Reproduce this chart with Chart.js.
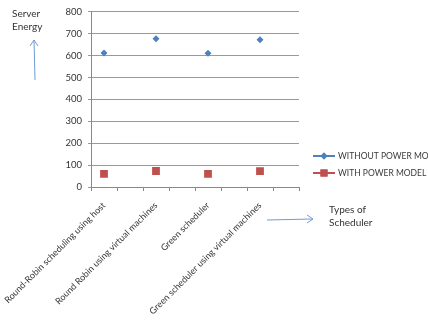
<!DOCTYPE html>
<html>
<head>
<meta charset="utf-8">
<script src="https://cdn.jsdelivr.net/npm/chart.js@4"></script>
<style>
  html, body { margin: 0; padding: 0; background: #fff; }
  #wrap { width: 428px; height: 323px; position: relative; }
</style>
</head>
<body>
<div id="wrap"><canvas id="graphique"></canvas></div>
<script>
// Données
const schedulers = [
  "Round-Robin scheduling using host",
  "Round Robin using virtual machines",
  "Green scheduler",
  "Green scheduler using virtual machines"
];
const sansModele = [612, 677, 610, 672];
const avecModele = [60, 73, 60, 72];
const seriesNames = ["WITHOUT POWER MODEL", "WITH POWER MODEL"];
const yTicks = [0, 100, 200, 300, 400, 500, 600, 700, 800];

const bleu = "#4F81BD";
const rouge = "#C0504D";
const police = "Lato, 'Open Sans', sans-serif";

// Excel laisse une case vide entre chaque catégorie
const labels = [];
const dataSans = [];
const dataAvec = [];
for (let i = 0; i < schedulers.length; i++) {
  labels.push(schedulers[i], "");
  dataSans.push(sansModele[i], null);
  dataAvec.push(avecModele[i], null);
}

// Légende et annotations dessinées à la main
const annotations = {
  id: "annotations",
  afterDraw(chart) {
    const ctx = chart.ctx;
    ctx.save();
    // légende
    const items = [
      { nom: seriesNames[0], couleur: bleu, style: "rectRot", r: 3.5, y: 156 },
      { nom: seriesNames[1], couleur: rouge, style: "rect", r: 5, y: 173 }
    ];
    for (const it of items) {
      ctx.strokeStyle = it.couleur;
      ctx.lineWidth = 2;
      ctx.beginPath();
      ctx.moveTo(313, it.y);
      ctx.lineTo(335, it.y);
      ctx.stroke();
      ctx.fillStyle = it.couleur;
      Chart.helpers.drawPoint(ctx, { pointStyle: it.style, radius: it.r, borderWidth: 0 }, 324, it.y);
      ctx.fill();
      ctx.fillStyle = "#3a3a3a";
      ctx.font = "8.5px " + police;
      ctx.textBaseline = "middle";
      ctx.fillText(it.nom, 338, it.y + 0.5);
    }
    // titres d'axes
    ctx.fillStyle = "#333";
    ctx.font = "10px " + police;
    ctx.textBaseline = "alphabetic";
    ctx.fillText("Server", 12, 17);
    ctx.fillText("Energy", 12, 30);
    ctx.fillText("Types of", 329, 213);
    ctx.fillText("Scheduler", 329, 226);
    // flèches
    ctx.strokeStyle = "#6E9BD0";
    ctx.lineWidth = 1;
    ctx.beginPath();
    ctx.moveTo(35, 80); ctx.lineTo(34, 40);
    ctx.moveTo(30, 46); ctx.lineTo(34, 40); ctx.lineTo(38, 46);
    ctx.moveTo(267, 220); ctx.lineTo(313, 219);
    ctx.moveTo(307, 215); ctx.lineTo(313, 219); ctx.lineTo(307, 223);
    ctx.stroke();
    ctx.restore();
  }
};

const config = {
  type: "line",
  data: {
    labels: labels,
    datasets: [
      {
        label: seriesNames[0],
        data: dataSans,
        showLine: false,
        pointStyle: "rectRot",
        pointRadius: 3.5,
        pointBackgroundColor: bleu,
        pointBorderWidth: 0,
        borderColor: bleu
      },
      {
        label: seriesNames[1],
        data: dataAvec,
        showLine: false,
        pointStyle: "rect",
        pointRadius: 5.5,
        pointBackgroundColor: rouge,
        pointBorderWidth: 0,
        borderColor: rouge
      }
    ]
  },
  options: {
    responsive: false,
    animation: false,
    devicePixelRatio: 1,
    layout: { padding: { top: 9, right: 129, left: 0, bottom: 0 } },
    plugins: { legend: { display: false }, tooltip: { enabled: false } },
    scales: {
      x: {
        offset: true,
        grid: { display: true, drawOnChartArea: false, offset: true, color: "#888", tickLength: 4 },
        border: { color: "#888" },
        ticks: {
          autoSkip: false,
          minRotation: 45,
          maxRotation: 45,
          color: "#333",
          font: { family: police, size: 9 },
          padding: 9
        },
        afterFit(scale) {
          scale.height = 136;
          scale.paddingLeft = 0;
          scale.paddingRight = 0;
        }
      },
      y: {
        min: 0,
        max: 800,
        afterBuildTicks(scale) { scale.ticks = yTicks.map(v => ({ value: v })); },
        grid: { color: "#999", tickLength: 3 },
        border: { color: "#888" },
        ticks: { color: "#333", font: { family: police, size: 9.5 }, padding: 6 },
        afterFit(scale) { scale.width = 91; }
      }
    }
  },
  plugins: [annotations]
};

const canvas = document.querySelector("#graphique");
canvas.width = 428;
canvas.height = 323;
const graphique = new Chart(canvas, config);
</script>
</body>
</html>
